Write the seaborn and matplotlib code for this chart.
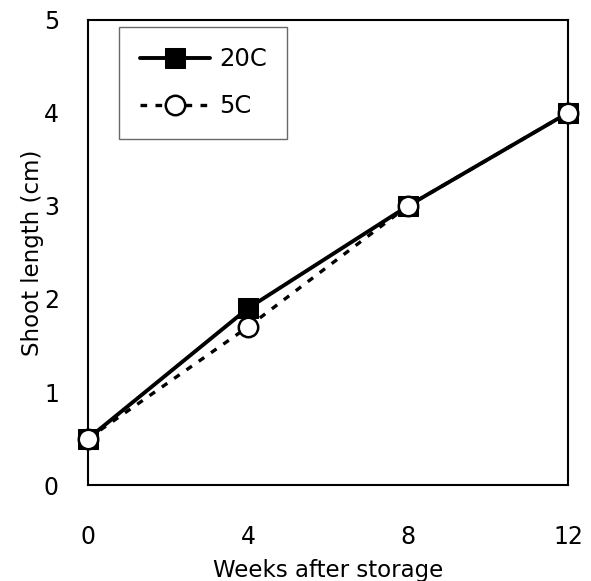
import pandas as pd
import seaborn as sns
import matplotlib.pyplot as plt

weeks = [0, 4, 8, 12]
shoot_20c = [0.5, 1.9, 3.0, 4.0]
shoot_5c = [0.5, 1.7, 3.0, 4.0]

df = pd.DataFrame({
    'week': weeks * 2,
    'length': shoot_20c + shoot_5c,
    'temp': ['20C'] * 4 + ['5C'] * 4,
})

sns.set_style('white')
plt.rcParams['font.family'] = ['DejaVu Sans']
plt.rcParams['text.color'] = 'black'
plt.rcParams['axes.labelcolor'] = 'black'
plt.rcParams['xtick.color'] = 'black'
plt.rcParams['ytick.color'] = 'black'

fig = plt.figure(figsize=(5.91, 5.81), dpi=100)
ax = fig.add_axes([0.149, 0.165, 0.812, 0.801])

sns.lineplot(data=df[df.temp == '20C'], x='week', y='length', ax=ax,
             color='black', lw=2.8, marker='s', markersize=14,
             markerfacecolor='black', markeredgecolor='black',
             label='20C', clip_on=False, zorder=3)
sns.lineplot(data=df[df.temp == '5C'], x='week', y='length', ax=ax,
             color='black', lw=2.4, linestyle=(0, (2, 2.5)), marker='o',
             markersize=14, markerfacecolor='white', markeredgecolor='black',
             markeredgewidth=1.8, label='5C', clip_on=False, zorder=4)

ax.set_xlim(0, 12)
ax.set_ylim(0, 5)
ax.set_xticks(weeks)
ax.set_yticks(range(6))
ax.tick_params(axis='both', length=0, labelsize=17, colors='black')
ax.tick_params(axis='x', pad=29)
ax.tick_params(axis='y', pad=21)
for s in ax.spines.values():
    s.set_color('black')
    s.set_linewidth(1.5)

ax.set_xlabel('Weeks after storage', fontsize=16.5, labelpad=7)
ax.set_ylabel('Shoot length (cm)', fontsize=16.5, labelpad=0)

leg = ax.legend(loc='upper left', bbox_to_anchor=(0.065, 0.985), fontsize=17.5,
                frameon=True, fancybox=False, edgecolor='#444444',
                handlelength=2.9, borderpad=0.85, labelspacing=0.95,
                handletextpad=0.35, borderaxespad=0.0)
leg.get_frame().set_linewidth(1.0)
for t in leg.get_texts():
    t.set_color('black')

fig.savefig('out.png', dpi=100)
